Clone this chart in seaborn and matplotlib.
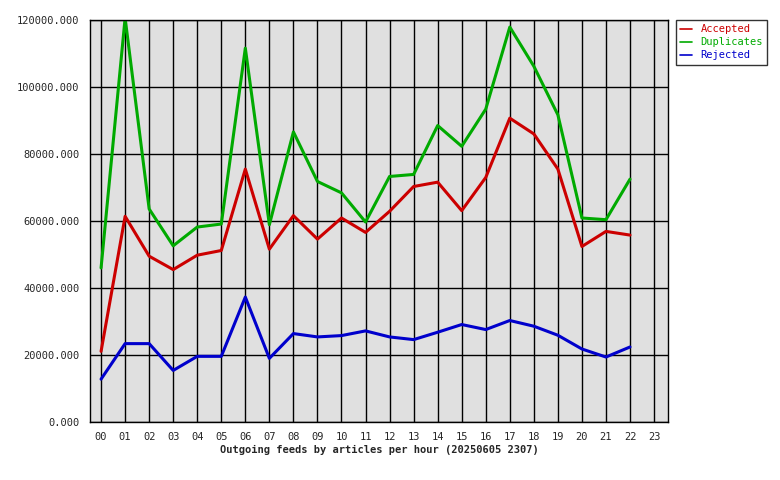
import numpy as np
import pandas as pd
import seaborn as sns
import matplotlib
matplotlib.use("Agg")
import matplotlib.pyplot as plt
from matplotlib.ticker import FuncFormatter

hours = list(range(23))
hour_labels = ["%02d" % h for h in range(24)]
accepted = [21100, 61400, 49500, 45500, 49800, 51200, 75500, 51600, 61600, 54600, 60900, 56600,
            62900, 70300, 71600, 63100, 73000, 90700, 86000, 75500, 52400, 56900, 55800]
duplicates = [46000, 120600, 63600, 52600, 58200, 59100, 111600, 58900, 86600, 71800, 68400, 59700,
              73300, 73900, 88500, 82300, 93400, 117900, 106200, 91700, 60900, 60400, 72500]
rejected = [12800, 23400, 23400, 15400, 19600, 19600, 37300, 19000, 26400, 25400, 25800, 27200,
            25400, 24600, 26800, 29100, 27600, 30300, 28600, 25900, 21800, 19400, 22400]

df = pd.DataFrame({"hour": hours * 3,
                   "value": accepted + duplicates + rejected,
                   "series": ["Accepted"] * 23 + ["Duplicates"] * 23 + ["Rejected"] * 23})
palette = {"Accepted": "#cc0000", "Duplicates": "#00aa00", "Rejected": "#0000cc"}

sns.set_style("white")
plt.rcParams["font.family"] = ["DejaVu Sans Mono"]
plt.rcParams["font.size"] = 7.5

fig = plt.figure(figsize=(7.8, 4.8), dpi=100)
ax = fig.add_axes([0.1154, 0.1208, 0.741, 0.8375])
ax.set_facecolor("#e0e0e0")
sns.lineplot(data=df, x="hour", y="value", hue="series", palette=palette, linewidth=2.2, ax=ax)

ax.set_xlim(-0.46, 23.58)
ax.set_ylim(0, 120000)
ax.set_xticks(range(24))
ax.set_xticklabels(hour_labels)
ax.set_yticks(range(0, 120001, 20000))
ax.yaxis.set_major_formatter(FuncFormatter(lambda v, p: "%.3f" % v))
ax.grid(True, color="black", linewidth=1)
ax.set_axisbelow(True)
for s in ax.spines.values():
    s.set_color("black")
    s.set_linewidth(1)
ax.tick_params(length=4, color="black", direction="out")
ax.set_ylabel("")
ax.set_xlabel("Outgoing feeds by articles per hour (20250605 2307)", fontweight="bold", labelpad=2)

handles, labels = ax.get_legend_handles_labels()
leg = ax.legend(handles, labels, loc="upper left", bbox_to_anchor=(1.013, 1.0), frameon=True,
                fancybox=False, edgecolor="black", borderaxespad=0, handlelength=1.2,
                labelspacing=0.3)
for t, c in zip(leg.get_texts(), labels):
    t.set_color(palette[c])
for line in leg.get_lines():
    line.set_linewidth(1.2)
leg.get_frame().set_linewidth(1)

fig.savefig("out.png", dpi=100)
